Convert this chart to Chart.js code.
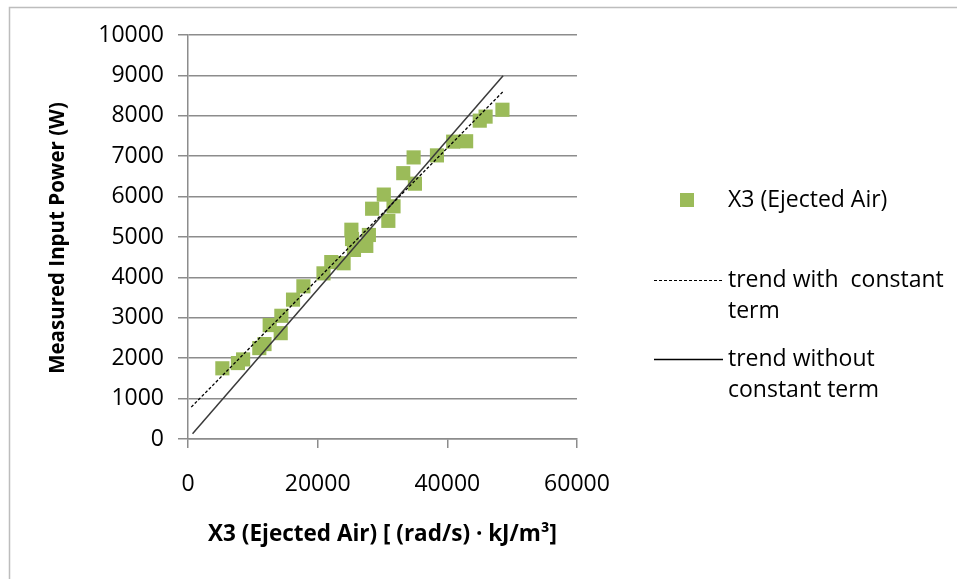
<!DOCTYPE html>
<html>
<head>
<meta charset="utf-8">
<script src="https://cdn.jsdelivr.net/npm/chart.js@4.4.1/dist/chart.umd.min.js"></script>
<style>
  html, body { margin: 0; padding: 0; background: #fff; }
  #wrap { position: relative; width: 957px; height: 579px; }
</style>
</head>
<body>
<div id="wrap"><canvas id="c" width="957" height="579"></canvas></div>
<script>
// ---- data ----
const pointX = [5300, 7700, 8500, 11000, 11800, 12600, 14300, 14400, 16200, 17800, 20900, 22100, 24000, 25200, 25300, 25600, 27500, 27900, 28400, 30200, 30900, 31700, 33200, 34800, 35000, 38400, 40900, 42900, 45000, 45900, 48500];
const pointY = [1750, 1880, 1970, 2250, 2350, 2820, 2620, 3050, 3450, 3780, 4100, 4380, 4350, 5180, 4950, 4680, 4780, 5050, 5700, 6050, 5400, 5760, 6580, 6970, 6320, 7020, 7360, 7370, 7880, 7980, 8150];
const trendConstX = [500, 48600];
const trendConstY = [790, 8600];
const trendZeroX = [700, 48600];
const trendZeroY = [130, 8990];
const seriesLabels = ['X3 (Ejected Air)', 'trend with  constant term', 'trend without constant term'];
const legendLines = [['X3 (Ejected Air)'], ['trend with  constant', 'term'], ['trend without', 'constant term']];
const xTicks = [0, 20000, 40000, 60000];
const yTicks = [0, 1000, 2000, 3000, 4000, 5000, 6000, 7000, 8000, 9000, 10000];
const xTitle = 'X3 (Ejected Air) [ (rad/s) \u00b7 kJ/m\u00b3]';
const yTitle = 'Measured Input Power (W)';

const toPts = (xs, ys) => xs.map((x, i) => ({ x: x, y: ys[i] }));

const FONT = '"Open Sans"';
const GREEN = '#9bbb59';
const GRID = '#8c8c8c';

const decor = {
  id: 'decor',
  beforeDraw(chart) {
    const ctx = chart.ctx;
    ctx.save();
    ctx.fillStyle = '#fff';
    ctx.fillRect(0, 0, chart.width, chart.height);
    ctx.strokeStyle = '#bdbdbd';
    ctx.lineWidth = 1.5;
    ctx.strokeRect(9.5, 7.5, 1200, 800);
    ctx.restore();
  },
  afterDraw(chart) {
    const ctx = chart.ctx;
    const area = chart.chartArea;
    ctx.save();
    ctx.fillStyle = '#000';
    // axis titles
    ctx.textAlign = 'center';
    ctx.textBaseline = 'middle';
    ctx.font = 'bold 22.5px ' + FONT;
    ctx.fillText(xTitle, (area.left + area.right) / 2, 535);
    ctx.save();
    ctx.translate(58, (area.top + area.bottom) / 2 + 1);
    ctx.rotate(-Math.PI / 2);
    ctx.font = 'bold 20.5px ' + FONT;
    ctx.fillText(yTitle, 0, 0);
    ctx.restore();

    // legend
    ctx.font = '23px ' + FONT;
    ctx.textAlign = 'left';
    const textX = 728;
    ctx.fillStyle = GREEN;
    ctx.fillRect(680, 193, 14, 14);
    ctx.fillStyle = '#000';
    ctx.fillText(legendLines[0][0], textX, 200);
    ctx.strokeStyle = '#000';
    ctx.lineWidth = 1.2;
    ctx.setLineDash([3, 2]);
    ctx.beginPath(); ctx.moveTo(654, 280.5); ctx.lineTo(723, 280.5); ctx.stroke();
    ctx.setLineDash([]);
    ctx.fillText(legendLines[1][0], textX, 280);
    ctx.fillText(legendLines[1][1], textX, 311);
    ctx.lineWidth = 1.5;
    ctx.beginPath(); ctx.moveTo(654, 359.5); ctx.lineTo(723, 359.5); ctx.stroke();
    ctx.fillText(legendLines[2][0], textX, 359);
    ctx.fillText(legendLines[2][1], textX, 390);
    ctx.restore();
  }
};

new Chart(document.getElementById('c'), {
  type: 'scatter',
  data: {
    datasets: [
      {
        label: seriesLabels[1], type: 'line', data: toPts(trendConstX, trendConstY),
        borderColor: '#000', borderWidth: 1.3, borderDash: [3, 2], pointRadius: 0, fill: false, order: 1
      },
      {
        label: seriesLabels[2], type: 'line', data: toPts(trendZeroX, trendZeroY),
        borderColor: '#3a3a3a', borderWidth: 1.5, pointRadius: 0, fill: false, order: 2
      },
      {
        label: seriesLabels[0], data: toPts(pointX, pointY),
        pointStyle: 'rect', pointRadius: 10, pointHoverRadius: 10,
        backgroundColor: GREEN, borderColor: GREEN, borderWidth: 0, order: 3
      }
    ]
  },
  options: {
    responsive: false,
    animation: false,
    events: [],
    layout: { padding: { left: 10, top: 35, right: 380, bottom: 10 } },
    plugins: { legend: { display: false }, tooltip: { enabled: false } },
    scales: {
      x: {
        type: 'linear', min: 0, max: 60000,
        afterBuildTicks(s) { s.ticks = xTicks.map(v => ({ value: v })); },
        afterFit(s) { s.height = 130; },
        grid: { display: true, drawOnChartArea: false, drawTicks: true, tickLength: 9, color: GRID, lineWidth: 1.5 },
        border: { display: true, color: GRID, width: 1.5 },
        ticks: { color: '#000', font: { family: FONT, size: 23 }, padding: 23, maxRotation: 0, callback: v => String(v) },
        title: { display: false }
      },
      y: {
        type: 'linear', min: 0, max: 10000,
        afterBuildTicks(s) { s.ticks = yTicks.map(v => ({ value: v })); },
        afterFit(s) { s.width = 178; },
        grid: { display: true, drawOnChartArea: true, drawTicks: true, tickLength: 10, color: GRID, lineWidth: 1.5 },
        border: { display: true, color: GRID, width: 1.5 },
        ticks: { color: '#000', font: { family: FONT, size: 23 }, padding: 14, callback: v => String(v) },
        title: { display: false }
      }
    }
  },
  plugins: [decor]
});
</script>
</body>
</html>
